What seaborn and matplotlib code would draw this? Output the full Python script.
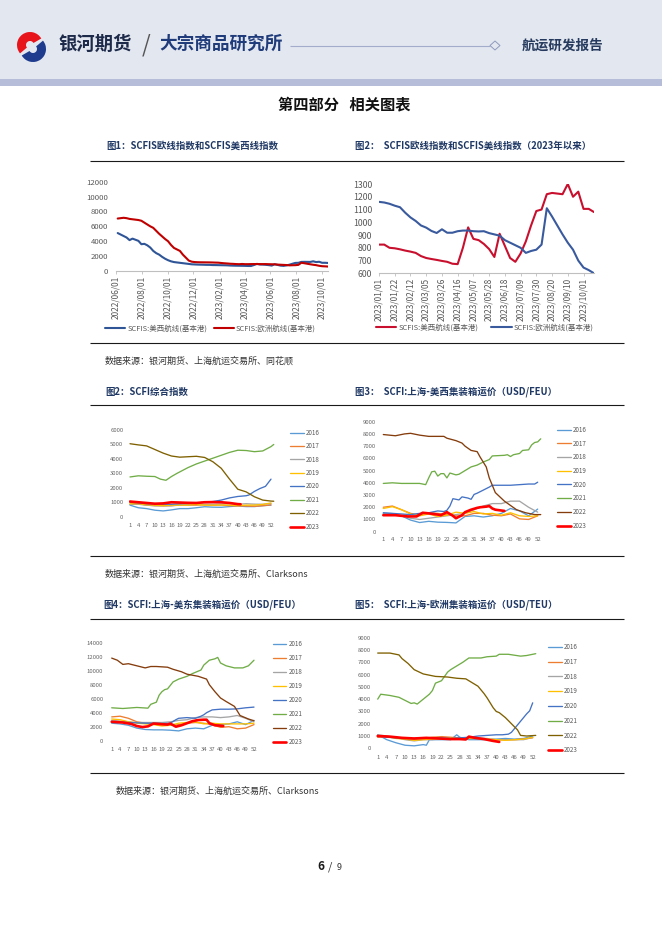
import numpy as np
import pandas as pd
import matplotlib
matplotlib.use("Agg")
import matplotlib.pyplot as plt
from matplotlib.patches import Rectangle, Wedge, Polygon
import seaborn as sns

# ---------------- data ----------------
# SCFIS weekly (基本港), first part from 2022-06-05, second part from 2023-01-01
scfis_start_2022 = "2022-06-05"
scfis_us_2022 = [5100, 4900, 4700, 4500, 4150, 4350, 4200, 4050, 3600, 3650, 3450, 3150, 2700, 2400, 2200,
                 1900, 1650, 1450, 1300, 1200, 1150, 1100, 1050, 1000, 950, 900, 880, 860, 850, 840]
scfis_eu_2022 = [7050, 7100, 7150, 7100, 7000, 6950, 6900, 6850, 6750, 6500, 6250, 6000, 5800, 5400, 5000,
                 4650, 4300, 4000, 3500, 3100, 2900, 2700, 2200, 1800, 1400, 1250, 1200, 1180, 1170, 1165]
scfis_start_2023 = "2023-01-01"
scfis_us_2023 = [825, 825, 800, 796, 788, 778, 770, 760, 735, 720, 712, 705, 697, 690, 675, 672, 800, 960,
                 870, 860, 830, 790, 728, 910, 815, 720, 690, 755, 850, 975, 1088, 1100, 1220, 1230, 1225,
                 1220, 1300, 1200, 1240, 1105, 1105, 1080]
scfis_eu_2023 = [1160, 1155, 1145, 1130, 1118, 1075, 1038, 1010, 975, 958, 932, 916, 945, 918, 918, 930,
                 935, 935, 930, 928, 930, 915, 905, 895, 860, 840, 820, 800, 760, 775, 785, 825, 1110, 1045,
                 975, 905, 840, 785, 700, 645, 625, 600]
label_us = "SCFIS:美西航线(基本港)"
label_eu = "SCFIS:欧洲航线(基本港)"
ticks_c1 = ["2022/06/01", "2022/08/01", "2022/10/01", "2022/12/01", "2023/02/01", "2023/04/01",
            "2023/06/01", "2023/08/01", "2023/10/01"]
ticks_c2 = ["2023/01/01", "2023/01/22", "2023/02/12", "2023/03/05", "2023/03/26", "2023/04/16",
            "2023/05/07", "2023/05/28", "2023/06/18", "2023/07/09", "2023/07/30", "2023/08/20",
            "2023/09/10", "2023/10/01"]

years = ["2016", "2017", "2018", "2019", "2020", "2021", "2022", "2023"]
week_grid = [1, 4, 7, 10, 13, 16, 19, 22, 25, 28, 31, 34, 37, 40, 43, 46, 49, 52]
week_ticks = [1, 4, 7, 10, 13, 16, 19, 22, 25, 28, 31, 34, 37, 40, 43, 46, 49, 52]

# SCFI composite index
comp_2016 = [800, 620, 560, 450, 400, 470, 560, 560, 620, 690, 660, 650, 700, 740, 700, 700, 760, 800]
comp_2017 = [850, 900, 800, 760, 760, 760, 820, 800, 800, 820, 800, 810, 760, 750, 740, 720, 760, 820]
comp_2018 = [860, 860, 800, 760, 740, 760, 800, 820, 850, 860, 860, 880, 900, 860, 900, 870, 860, 920]
comp_2019 = [900, 900, 820, 800, 760, 800, 800, 800, 850, 800, 800, 810, 800, 760, 800, 800, 850, 950]
comp_2020_w = [1, 4, 7, 10, 13, 16, 19, 22, 25, 28, 31, 34, 37, 40, 43, 44, 46, 48, 50, 52]
comp_2020 = [1000, 960, 900, 880, 860, 860, 900, 920, 950, 1000, 1050, 1150, 1300, 1400, 1450, 1500, 1750,
             1950, 2100, 2600]
comp_2021_w = [1, 4, 7, 10, 12, 14, 16, 18, 19, 22, 25, 28, 31, 34, 37, 40, 43, 46, 49, 52, 53]
comp_2021 = [2750, 2830, 2800, 2780, 2600, 2520, 2780, 3000, 3100, 3400, 3650, 3850, 4050, 4250, 4450, 4600,
             4580, 4500, 4550, 4850, 5000]
comp_2022_w = [1, 4, 7, 10, 13, 16, 19, 22, 25, 28, 31, 34, 37, 40, 43, 46, 49, 52, 53]
comp_2022 = [5050, 4970, 4900, 4650, 4400, 4200, 4120, 4150, 4180, 4100, 3800, 3350, 2600, 1900, 1720, 1380,
             1150, 1080, 1070]
comp_2023_w = [1, 4, 7, 10, 13, 16, 19, 22, 25, 28, 31, 34, 37, 40, 41]
comp_2023 = [1050, 1000, 950, 900, 920, 1000, 980, 960, 950, 1000, 1010, 1000, 950, 870, 860]

# SCFI Shanghai - US West (USD/FEU)
usw_2016 = [1500, 1480, 1300, 950, 750, 850, 780, 760, 720, 1250, 1300, 1200, 1300, 1500, 1900, 1700, 1300, 1850]
usw_2017 = [2000, 2100, 1800, 1500, 1350, 1550, 1500, 1400, 1300, 1300, 1500, 1500, 1350, 1300, 1450, 1050, 1000, 1300]
usw_2018 = [1500, 1400, 1300, 1100, 1000, 1100, 1200, 1300, 1400, 1500, 1800, 2100, 2300, 2300, 2500, 2500, 2000, 1600]
usw_2019 = [1900, 2050, 1800, 1450, 1300, 1450, 1250, 1350, 1600, 1500, 1650, 1450, 1500, 1350, 1550, 1300, 1250, 1300]
usw_2020_w = [1, 4, 7, 10, 13, 16, 19, 21, 22, 23, 24, 26, 27, 29, 30, 31, 32, 34, 36, 37, 40, 43, 46, 49, 51, 52]
usw_2020 = [1550, 1500, 1450, 1400, 1500, 1550, 1700, 1650, 1750, 2100, 2700, 2600, 2850, 2750, 2650, 3050, 3150,
            3400, 3650, 3800, 3800, 3800, 3850, 3900, 3900, 4050]
usw_2021_w = [1, 4, 7, 10, 13, 15, 16, 17, 18, 19, 20, 21, 22, 23, 25, 26, 28, 30, 32, 34, 36, 37, 41, 42, 43, 44,
              46, 47, 49, 50, 51, 52, 53]
usw_2021 = [3950, 4000, 3950, 3950, 3950, 3850, 4400, 4900, 4950, 4550, 4750, 4750, 4400, 4800, 4650, 4700, 5000,
            5300, 5450, 5700, 5900, 6200, 6250, 6300, 6150, 6300, 6400, 6650, 6700, 7100, 7300, 7350, 7600]
usw_2022_w = [1, 5, 8, 10, 13, 16, 21, 22, 25, 27, 28, 30, 32, 33, 35, 36, 37, 38, 41, 43, 45, 48, 51, 53]
usw_2022 = [7950, 7850, 8000, 8050, 7900, 7800, 7800, 7650, 7450, 7250, 7000, 6650, 6550, 6100, 5300, 4400, 3800,
            3200, 2500, 2150, 1800, 1550, 1400, 1400]
usw_2023_w = [1, 5, 9, 12, 14, 16, 19, 20, 22, 24, 25, 27, 28, 30, 32, 33, 35, 36, 37, 38, 41]
usw_2023 = [1350, 1350, 1250, 1250, 1550, 1500, 1400, 1350, 1600, 1300, 1100, 1350, 1600, 1800, 1950, 2000, 2050,
            2100, 1900, 1800, 1700]

# SCFI Shanghai - US East (USD/FEU)
use_2016 = [2500, 2400, 2200, 1800, 1600, 1550, 1550, 1500, 1400, 1700, 1800, 1700, 2200, 2300, 2400, 2700, 2300, 2900]
use_2017 = [3400, 3500, 3200, 2700, 2500, 2400, 2300, 2200, 2300, 2500, 2600, 2500, 2300, 1900, 2000, 1700, 1800, 2300]
use_2018 = [2900, 2800, 2700, 2600, 2600, 2600, 2600, 2700, 2900, 3000, 3300, 3400, 3400, 3300, 3400, 3600, 3200, 2700]
use_2019 = [3100, 3000, 2700, 2500, 2400, 2300, 2100, 2200, 2500, 2600, 2700, 2400, 2500, 2400, 2400, 2400, 2400, 2500]
use_2020_w = [1, 4, 7, 10, 13, 16, 19, 22, 24, 25, 28, 31, 33, 34, 35, 37, 40, 43, 46, 49, 52]
use_2020 = [2700, 2650, 2600, 2550, 2500, 2500, 2450, 2500, 3000, 3200, 3300, 3200, 3500, 3700, 4000, 4400, 4500,
            4500, 4550, 4700, 4800]
use_2021_w = [1, 5, 10, 14, 15, 17, 18, 19, 20, 21, 23, 25, 28, 30, 33, 34, 36, 38, 39, 40, 42, 45, 48, 50, 52]
use_2021 = [4700, 4600, 4750, 4650, 5200, 5500, 6500, 7000, 7300, 7400, 8400, 8800, 9200, 9600, 10100, 10800,
            11500, 11700, 11900, 11100, 10700, 10400, 10400, 10700, 11500]
use_2022_w = [1, 3, 5, 7, 10, 13, 15, 17, 21, 23, 26, 28, 32, 35, 36, 38, 40, 42, 45, 47, 50, 52]
use_2022 = [11800, 11500, 10900, 11000, 10700, 10400, 10600, 10600, 10500, 10200, 9850, 9500, 9200, 8800, 8000,
            7000, 6100, 5600, 4900, 3600, 3100, 2850]
use_2023_w = [1, 5, 8, 10, 12, 14, 16, 19, 21, 22, 24, 26, 28, 30, 32, 34, 35, 36, 38, 40, 41]
use_2023 = [2700, 2600, 2400, 2100, 1950, 2050, 2450, 2350, 2300, 2450, 2000, 2200, 2500, 2800, 2950, 3000, 3000,
            2500, 2200, 2150, 2100]

# SCFI Shanghai - Europe (USD/TEU)
eu_2016_w = [1, 4, 7, 10, 13, 16, 17, 18, 19, 22, 25, 27, 28, 31, 34, 37, 40, 43, 46, 49, 52]
eu_2016 = [1100, 700, 450, 250, 200, 300, 250, 700, 700, 700, 700, 1100, 900, 700, 700, 700, 750, 800, 750, 800, 1000]
eu_2017 = [900, 950, 900, 800, 700, 800, 900, 950, 900, 850, 850, 800, 750, 700, 700, 700, 750, 850]
eu_2018 = [1100, 1000, 850, 700, 600, 700, 700, 800, 800, 850, 850, 850, 800, 700, 700, 700, 700, 900]
eu_2019 = [1000, 950, 800, 750, 650, 700, 750, 800, 850, 800, 800, 800, 750, 700, 650, 700, 750, 900]
eu_2020_w = [1, 4, 7, 10, 13, 16, 19, 22, 25, 28, 31, 34, 37, 40, 42, 44, 45, 46, 47, 48, 49, 50, 51, 52]
eu_2020 = [1000, 900, 850, 800, 800, 850, 850, 850, 800, 850, 900, 1000, 1050, 1100, 1100, 1150, 1300, 1600, 1900,
           2200, 2500, 2800, 3050, 3700]
eu_2021_w = [1, 2, 5, 7, 8, 10, 12, 13, 14, 16, 18, 19, 20, 22, 24, 25, 27, 29, 31, 35, 37, 40, 41, 44, 48, 50, 53]
eu_2021 = [4000, 4400, 4300, 4200, 4150, 3900, 3650, 3700, 3600, 4000, 4400, 4700, 5300, 5500, 6200, 6400, 6700,
           7000, 7350, 7350, 7450, 7500, 7650, 7650, 7500, 7550, 7700]
eu_2022_w = [1, 5, 8, 9, 11, 13, 16, 18, 20, 24, 27, 30, 31, 34, 36, 37, 39, 40, 41, 43, 45, 47, 48, 50, 53]
eu_2022 = [7750, 7750, 7600, 7300, 6900, 6400, 6050, 5950, 5850, 5800, 5700, 5650, 5500, 5050, 4450, 4100, 3300,
           3000, 2900, 2500, 2000, 1500, 1050, 1000, 1050]
eu_2023_w = [1, 5, 9, 13, 17, 21, 25, 28, 30, 31, 33, 36, 39, 41]
eu_2023 = [1000, 950, 850, 800, 850, 800, 750, 750, 720, 950, 850, 750, 600, 520]

# ---------------- style ----------------
W, H = 662, 936
sns.set_theme(style="white")
plt.rcParams["font.family"] = ["Noto Sans CJK SC", "DejaVu Sans"]
plt.rcParams["axes.unicode_minus"] = False

PT = 0.72  # points per pixel at dpi 100
GRAY_TXT = "#595959"
YEAR_COLORS = ["#5B9BD5", "#ED7D31", "#A5A5A5", "#FFC000", "#4472C4", "#70AD47", None, "#FF0000"]

fig = plt.figure(figsize=(W / 100, H / 100), dpi=100)
fig.patch.set_facecolor("white")
bg = fig.add_axes([0, 0, 1, 1], zorder=0)
bg.set_xlim(0, W)
bg.set_ylim(H, 0)
bg.axis("off")


def add_ax(l, t, r, b):
    ax = fig.add_axes([l / W, 1 - b / H, (r - l) / W, (b - t) / H], zorder=2)
    ax.set_facecolor("none")
    return ax


# ---------------- page decoration ----------------
bg.add_patch(Rectangle((0, 0), W, 79, color="#E3E7F0", lw=0))
bg.add_patch(Rectangle((0, 79), W, 7, color="#B5BDD8", lw=0))
# logo (stylised swirl)
bg.add_patch(Wedge((30, 45), 13, 140, 330, width=9, color="#E8141C", lw=0))
bg.add_patch(Wedge((33, 49), 13, 320, 150, width=9, color="#1E3B8E", lw=0))
bg.text(58, 44, "银河期货", fontsize=13.2, fontweight="bold", color="#1E2A4A", va="center")
bg.text(146, 45, "/", fontsize=16, color="#555555", va="center", ha="center")
bg.text(159, 44, "大宗商品研究所", fontsize=12.7, fontweight="bold", color="#1F3B7A", va="center")
bg.hlines(45.5, 290, 490, color="#A3ADCB", lw=0.8)
bg.add_patch(Polygon([(490, 45.5), (495, 41), (500, 45.5), (495, 50)], closed=True, fill=False,
                     ec="#8F9BBE", lw=0.7))
bg.text(521.5, 45.5, "航运研发报告", fontsize=9.8, fontweight="bold", color="#253A5E", va="center")
bg.text(344, 104, "第四部分   相关图表", fontsize=11, fontweight="bold", color="#111111", ha="center", va="center")

TITLE_KW = dict(fontsize=6.8, fontweight="bold", color="#1F3864", va="center")
bg.text(106, 146, "图1：SCFIS欧线指数和SCFIS美西线指数", **TITLE_KW)
bg.text(355, 146, "图2：  SCFIS欧线指数和SCFIS美线指数（2023年以来）", **TITLE_KW)
bg.text(105, 392, "图2：SCFI综合指数", **TITLE_KW)
bg.text(355, 392, "图3：  SCFI:上海-美西集装箱运价（USD/FEU）", **TITLE_KW)
bg.text(103, 605, "图4：SCFI:上海-美东集装箱运价（USD/FEU）", **TITLE_KW)
bg.text(355, 605, "图5：  SCFI:上海-欧洲集装箱运价（USD/TEU）", **TITLE_KW)

for y in [161, 343, 405, 556, 619, 773]:
    bg.hlines(y, 90, 624, color="#1A1A1A", lw=0.8)

SRC_KW = dict(fontsize=6.5, color="#333333", va="center")
bg.text(105, 361, "数据来源：银河期货、上海航运交易所、同花顺", **SRC_KW)
bg.text(105, 574, "数据来源：银河期货、上海航运交易所、Clarksons", **SRC_KW)
bg.text(116, 791, "数据来源：银河期货、上海航运交易所、Clarksons", **SRC_KW)

bg.text(321, 867, "6", fontsize=8.5, fontweight="bold", color="#1A1A1A", va="center", ha="center")
bg.text(330, 867, "/", fontsize=8, color="#333333", va="center", ha="center")
bg.text(339, 868, "9", fontsize=6.5, color="#333333", va="center", ha="center")


# ---------------- SCFIS charts ----------------
def date_chart(box, series, ylim, ystep, tick_labels, ylab_fs, ypad_px, leg_x, leg_y, colspace):
    ax = add_ax(*box)
    for dates, vals, color, lab in series:
        sns.lineplot(x=dates, y=vals, ax=ax, color=color, linewidth=1.5, label=lab)
    ax.set_ylim(*ylim)
    ax.set_yticks(np.arange(ylim[0], ylim[1] + 1, ystep))
    ax.set_yticklabels([str(int(v)) for v in np.arange(ylim[0], ylim[1] + 1, ystep)])
    ticks = pd.to_datetime(tick_labels)
    ax.set_xticks(ticks)
    ax.set_xticklabels(tick_labels, rotation=90)
    for s in ["top", "right", "left"]:
        ax.spines[s].set_visible(False)
    ax.spines["bottom"].set_color("#BFBFBF")
    ax.spines["bottom"].set_linewidth(0.8)
    ax.tick_params(axis="y", length=0, pad=ypad_px * PT, labelsize=ylab_fs, labelcolor=GRAY_TXT)
    ax.tick_params(axis="x", length=2.2, width=0.6, color="#BFBFBF", direction="out", pad=1,
                   labelsize=6.0, labelcolor=GRAY_TXT, bottom=True)
    ax.set_xlabel("")
    ax.set_ylabel("")
    ax.grid(False)
    h, l = ax.get_legend_handles_labels()
    ax.legend(h, l, loc="center left", bbox_to_anchor=(leg_x / W, 1 - leg_y / H), bbox_transform=fig.transFigure,
              ncol=2, frameon=False, fontsize=5.4, labelcolor=GRAY_TXT, handlelength=2.7, handletextpad=0.25,
              columnspacing=colspace, borderpad=0, borderaxespad=0)
    return ax


d22 = pd.date_range(scfis_start_2022, periods=len(scfis_us_2022), freq="7D")
d23 = pd.date_range(scfis_start_2023, periods=len(scfis_us_2023), freq="7D")
d_all = d22.append(d23)
us_all = scfis_us_2022 + scfis_us_2023
eu_all = scfis_eu_2022 + scfis_eu_2023
BLUE, RED = "#2F5597", "#C00000"

ax1 = date_chart((116, 181.7, 328, 271),
                 [(d_all, us_all, BLUE, label_us), (d_all, eu_all, RED, label_eu)],
                 (0, 12000), 2000, ticks_c1, 5.6, 8, 105, 329, 0.9)
ax1.set_xlim(pd.Timestamp("2022-06-01"), pd.Timestamp("2023-10-15"))

ax2 = date_chart((379, 184, 594, 273.3),
                 [(d23, scfis_us_2023, "#C8102E", label_us), (d23, scfis_eu_2023, "#3A5A9E", label_eu)],
                 (600, 1300), 100, ticks_c2, 6.3, 6.7, 376, 327.3, 1.75)
ax2.set_xlim(pd.Timestamp("2023-01-01"), pd.Timestamp("2023-10-15"))


# ---------------- seasonal SCFI charts ----------------
def seasonal(x1, x52, y0px, ytoppx, ymax, ystep, ylab_pad, xlab_pad, data, c2022, leg_x, leg_top, leg_bot):
    pw = (x52 - x1) / 51.0
    left = x1 - 0.5 * pw
    right = x1 + 52.5 * pw
    ax = add_ax(left, ytoppx, right, y0px)
    colors = list(YEAR_COLORS)
    colors[6] = c2022
    for yr, (wk, vals), col in zip(years, data, colors):
        lw = 1.9 if yr == "2023" else 0.95
        sns.lineplot(x=wk, y=vals, ax=ax, color=col, linewidth=lw, label=yr)
    ax.set_xlim(0.5, 53.5)
    ax.set_ylim(0, ymax)
    yt = np.arange(0, ymax + 1, ystep)
    ax.set_yticks(yt)
    ax.set_yticklabels([str(int(v)) for v in yt])
    ax.set_xticks(week_ticks)
    ax.set_xticklabels([str(w) for w in week_ticks])
    for s in ax.spines.values():
        s.set_visible(False)
    ax.tick_params(axis="both", length=0, labelsize=4.3, labelcolor="#666666")
    ax.tick_params(axis="y", pad=ylab_pad * PT)
    ax.tick_params(axis="x", pad=xlab_pad * PT)
    ax.set_xlabel("")
    ax.set_ylabel("")
    ax.grid(False)
    h, l = ax.get_legend_handles_labels()
    fs = 4.5
    fs_px = fs / PT
    target = (leg_bot - leg_top) / 7.0
    kw = dict(loc="center left", bbox_to_anchor=(leg_x / W, 1 - (leg_top + leg_bot) / 2 / H),
              bbox_transform=fig.transFigure, frameon=False, fontsize=fs, labelcolor=GRAY_TXT,
              handlelength=2.2, handletextpad=0.4, borderpad=0, borderaxespad=0)
    leg = ax.legend(h, l, labelspacing=1.0, **kw)
    fig.canvas.draw()
    r = fig.canvas.get_renderer()
    texts = leg.get_texts()
    b0 = texts[0].get_window_extent(r)
    b7 = texts[-1].get_window_extent(r)
    pitch = ((b0.y0 + b0.y1) / 2 - (b7.y0 + b7.y1) / 2) / 7.0
    text_h = pitch - 1.0 * fs_px
    ls = max(0.05, (target - text_h) / fs_px)
    ax.legend(h, l, labelspacing=ls, **kw)
    return ax


comp_data = [(week_grid, comp_2016), (week_grid, comp_2017), (week_grid, comp_2018), (week_grid, comp_2019),
             (comp_2020_w, comp_2020), (comp_2021_w, comp_2021), (comp_2022_w, comp_2022),
             (comp_2023_w, comp_2023)]
usw_data = [(week_grid, usw_2016), (week_grid, usw_2017), (week_grid, usw_2018), (week_grid, usw_2019),
            (usw_2020_w, usw_2020), (usw_2021_w, usw_2021), (usw_2022_w, usw_2022), (usw_2023_w, usw_2023)]
use_data = [(week_grid, use_2016), (week_grid, use_2017), (week_grid, use_2018), (week_grid, use_2019),
            (use_2020_w, use_2020), (use_2021_w, use_2021), (use_2022_w, use_2022), (use_2023_w, use_2023)]
eu_data = [(eu_2016_w, eu_2016), (week_grid, eu_2017), (week_grid, eu_2018), (week_grid, eu_2019),
           (eu_2020_w, eu_2020), (eu_2021_w, eu_2021), (eu_2022_w, eu_2022), (eu_2023_w, eu_2023)]

seasonal(130, 271, 516.7, 430, 6000, 1000, 5.3, 6, comp_data, "#7F6000", 290, 432.7, 526.7)
seasonal(383.3, 537.7, 531.7, 421.7, 9000, 1000, 5.8, 5.5, usw_data, "#843C0C", 557, 430, 525.7)
seasonal(111.7, 254, 740.7, 642.7, 14000, 2000, 7, 6.2, use_data, "#843C0C", 272.7, 644, 741.7)
seasonal(377.7, 532.7, 748.3, 637.7, 9000, 1000, 5.5, 7, eu_data, "#7F6000", 548, 647, 750.3)

fig.savefig("out.png", dpi=100, facecolor="white")
